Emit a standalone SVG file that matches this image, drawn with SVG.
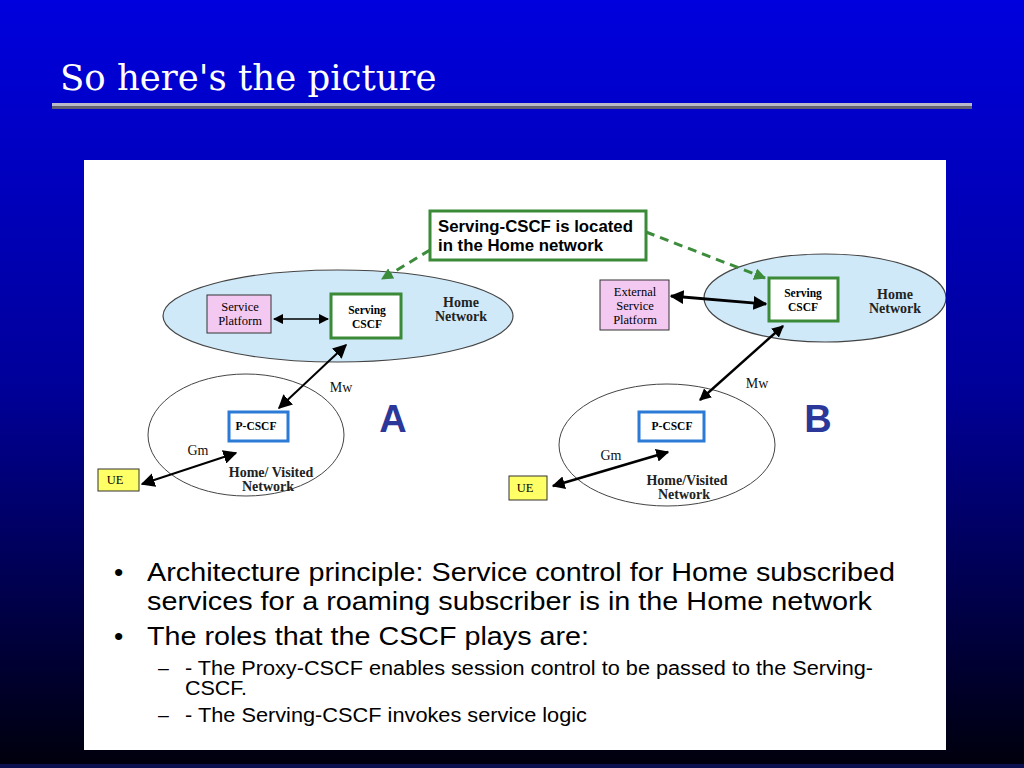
<svg xmlns="http://www.w3.org/2000/svg" width="1024" height="768" viewBox="0 0 1024 768">
  <defs>
    <linearGradient id="bg" x1="0" y1="0" x2="0" y2="1">
      <stop offset="0" stop-color="#0000de"/>
      <stop offset="0.5" stop-color="#00009a"/>
      <stop offset="1" stop-color="#00000c"/>
    </linearGradient>
    <marker id="ah" viewBox="0 0 10 10" refX="9" refY="5" markerWidth="5" markerHeight="5" orient="auto-start-reverse" markerUnits="strokeWidth">
      <path d="M0,0 L10,5 L0,10 z" fill="#000"/>
    </marker>
    <marker id="ahs" viewBox="0 0 10 10" refX="9" refY="5" markerWidth="7" markerHeight="7" orient="auto-start-reverse" markerUnits="strokeWidth">
      <path d="M0,0 L10,5 L0,10 z" fill="#000"/>
    </marker>
    <marker id="ahg" viewBox="0 0 10 10" refX="9" refY="5" markerWidth="4" markerHeight="4" orient="auto" markerUnits="strokeWidth">
      <path d="M0,0 L10,5 L0,10 z" fill="#3c8c3c"/>
    </marker>
    <clipPath id="panel">
      <rect x="84" y="160" width="862" height="590"/>
    </clipPath>
  </defs>
  <style>
    .lbl { font-family: "Liberation Serif", "Times New Roman", serif; font-size: 12.5px; fill: #000; text-anchor: middle; }
    .bold { font-weight: bold; font-size: 11.5px; }
    .net { font-family: "Liberation Serif", "Times New Roman", serif; font-size: 14px; font-weight: bold; fill: #222; text-anchor: middle; }
    .ifc { font-family: "Liberation Serif", "Times New Roman", serif; font-size: 14px; fill: #111; text-anchor: middle; }
    .home { fill: #cfe9f9; stroke: #444; stroke-width: 1.2; }
    .visited { fill: none; stroke: #444; stroke-width: 1; }
    .plat { fill: #f3c9f2; stroke: #333; stroke-width: 1; }
    .scscf { fill: #fff; stroke: #3a8a38; stroke-width: 3; }
    .pcscf { fill: #fff; stroke: #2a7ad6; stroke-width: 3; }
    .ue { fill: #ffff66; stroke: #333; stroke-width: 1; }
    .link { stroke: #000; fill: none; }
    .dash { stroke: #3c8c3c; stroke-width: 3; stroke-dasharray: 9 6; fill: none; }
    .big { font-family: "Liberation Sans", Arial, sans-serif; font-size: 38px; font-weight: bold; fill: #2b3799; text-anchor: middle; }
    .b1 { font-family: "Liberation Sans", Arial, sans-serif; font-size: 26.5px; fill: #000; }
    .b2 { font-family: "Liberation Sans", Arial, sans-serif; font-size: 19.5px; fill: #000; }
  </style>

  <!-- slide background and title -->
  <rect x="0" y="0" width="1024" height="768" fill="url(#bg)"/>
  <rect x="0" y="764" width="1024" height="4" fill="#0a1050"/>
  <text x="60" y="90" font-family="DejaVu Serif, serif" font-size="35.5" fill="#fff">So here's the picture</text>
  <rect x="52" y="103" width="920" height="3" fill="#b8b8c8"/>
  <rect x="52" y="106" width="920" height="3" fill="#606070"/>

  <!-- white content panel -->
  <rect x="84" y="160" width="862" height="590" fill="#fff"/>

  <g clip-path="url(#panel)">
    <!-- network areas -->
    <g id="home-network-a">
      <ellipse class="home" cx="338" cy="316" rx="175" ry="46"/>
      <text class="net" x="461" y="307">Home</text>
      <text class="net" x="461" y="321">Network</text>
    </g>
    <g id="visited-network-a">
      <ellipse class="visited" cx="246" cy="435" rx="98" ry="61"/>
      <text class="net" x="271" y="477">Home/ Visited</text>
      <text class="net" x="268" y="491">Network</text>
    </g>
    <g id="home-network-b">
      <ellipse class="home" cx="825" cy="298" rx="121" ry="44"/>
      <text class="net" x="895" y="299">Home</text>
      <text class="net" x="895" y="313">Network</text>
    </g>
    <g id="visited-network-b">
      <ellipse class="visited" cx="667" cy="445" rx="108" ry="61"/>
      <text class="net" x="687" y="485">Home/Visited</text>
      <text class="net" x="684" y="499">Network</text>
    </g>

    <!-- connectors -->
    <g id="connectors">
      <line class="link" x1="274" y1="319" x2="328" y2="319" stroke-width="1.5" marker-start="url(#ahs)" marker-end="url(#ahs)"/>
      <line class="link" x1="346" y1="345" x2="279" y2="408" stroke-width="2" marker-start="url(#ahs)" marker-end="url(#ahs)"/>
      <line class="link" x1="236" y1="453" x2="142" y2="484" stroke-width="2" marker-start="url(#ahs)" marker-end="url(#ahs)"/>
      <line class="link" x1="671" y1="296" x2="766" y2="304" stroke-width="2.8" marker-start="url(#ah)" marker-end="url(#ah)"/>
      <line class="link" x1="783" y1="326" x2="700" y2="400" stroke-width="2.4" marker-start="url(#ah)" marker-end="url(#ah)"/>
      <line class="link" x1="668" y1="452" x2="553" y2="486" stroke-width="2.6" marker-start="url(#ah)" marker-end="url(#ah)"/>
      <path class="dash" d="M430,250 L382,279" marker-end="url(#ahg)"/>
      <path class="dash" d="M646,232 L765,278" marker-end="url(#ahg)"/>
    </g>

    <!-- interface labels -->
    <text class="ifc" x="341" y="392">Mw</text>
    <text class="ifc" x="198" y="455">Gm</text>
    <text class="ifc" x="757" y="388">Mw</text>
    <text class="ifc" x="611" y="460">Gm</text>

    <!-- side A nodes -->
    <g id="service-platform-a">
      <rect class="plat" x="207" y="295" width="64" height="38"/>
      <text class="lbl" x="240" y="311">Service</text>
      <text class="lbl" x="240" y="325">Platform</text>
    </g>
    <g id="serving-cscf-a">
      <rect class="scscf" x="331" y="294" width="70" height="44"/>
      <text class="lbl bold" x="367" y="314">Serving</text>
      <text class="lbl bold" x="367" y="328">CSCF</text>
    </g>
    <g id="p-cscf-a">
      <rect class="pcscf" x="229" y="412" width="59" height="29"/>
      <text class="lbl bold" x="256" y="430">P-CSCF</text>
    </g>
    <g id="ue-a">
      <rect class="ue" x="98" y="469" width="41" height="22"/>
      <text class="lbl" x="115" y="484">UE</text>
    </g>
    <text class="big" x="393" y="432">A</text>

    <!-- side B nodes -->
    <g id="external-service-platform-b">
      <rect class="plat" x="600" y="280" width="69" height="50"/>
      <text class="lbl" x="635" y="296">External</text>
      <text class="lbl" x="635" y="310">Service</text>
      <text class="lbl" x="635" y="324">Platform</text>
    </g>
    <g id="serving-cscf-b">
      <rect class="scscf" x="769" y="278" width="69" height="43"/>
      <text class="lbl bold" x="803" y="297">Serving</text>
      <text class="lbl bold" x="803" y="311">CSCF</text>
    </g>
    <g id="p-cscf-b">
      <rect class="pcscf" x="639" y="412" width="65" height="29"/>
      <text class="lbl bold" x="672" y="430">P-CSCF</text>
    </g>
    <g id="ue-b">
      <rect class="ue" x="509" y="476" width="38" height="24"/>
      <text class="lbl" x="525" y="492">UE</text>
    </g>
    <text class="big" x="818" y="432">B</text>

    <!-- callout -->
    <g id="callout">
      <rect x="430" y="211" width="216" height="49" fill="#fff" stroke="#3a8a38" stroke-width="3"/>
      <text x="438" y="232" font-family="Liberation Sans, Arial, sans-serif" font-size="16.8" font-weight="bold" fill="#000">Serving-CSCF is located</text>
      <text x="438" y="251" font-family="Liberation Sans, Arial, sans-serif" font-size="16.8" font-weight="bold" fill="#000">in the Home network</text>
    </g>
  </g>

  <!-- bullet text -->
  <g id="bullets">
    <text class="b1" x="114" y="581">•</text>
    <text class="b1" x="147" y="581" textLength="748" lengthAdjust="spacingAndGlyphs">Architecture principle: Service control for Home subscribed</text>
    <text class="b1" x="147" y="610" textLength="725" lengthAdjust="spacingAndGlyphs">services for a roaming subscriber is in the Home network</text>
    <text class="b1" x="114" y="645">•</text>
    <text class="b1" x="147" y="645" textLength="442" lengthAdjust="spacingAndGlyphs">The roles that the CSCF plays are:</text>
    <text class="b2" x="158" y="675">–</text>
    <text class="b2" x="185" y="675" textLength="688" lengthAdjust="spacingAndGlyphs">- The Proxy-CSCF enables session control to be passed to the Serving-</text>
    <text class="b2" x="185" y="695" textLength="62" lengthAdjust="spacingAndGlyphs">CSCF.</text>
    <text class="b2" x="158" y="722">–</text>
    <text class="b2" x="185" y="722" textLength="402" lengthAdjust="spacingAndGlyphs">- The Serving-CSCF invokes service logic</text>
  </g>
</svg>
